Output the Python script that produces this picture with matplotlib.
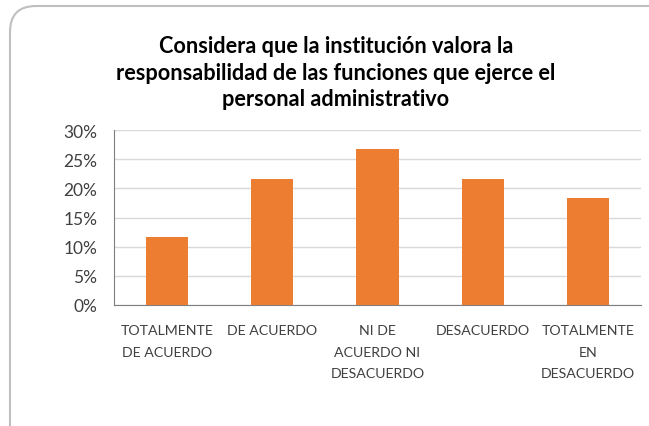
import matplotlib
matplotlib.use("Agg")
import matplotlib.pyplot as plt
from matplotlib.patches import FancyBboxPatch
from matplotlib.ticker import PercentFormatter

categories = ["TOTALMENTE\nDE ACUERDO", "DE ACUERDO", "NI DE\nACUERDO NI\nDESACUERDO",
              "DESACUERDO", "TOTALMENTE\nEN\nDESACUERDO"]
values = [0.1167, 0.2167, 0.2667, 0.2167, 0.1833]
yticks = [0, 0.05, 0.10, 0.15, 0.20, 0.25, 0.30]
title = "Considera que la institución valora la\nresponsabilidad de las funciones que ejerce el\npersonal administrativo"

plt.rcParams['font.family'] = ['Lato', 'DejaVu Sans']

W, H = 649, 427
fig = plt.figure(figsize=(W/100, H/100), dpi=100)
fig.patch.set_facecolor("white")

# rounded chart border
border = FancyBboxPatch((10/W, -0.2), 1.2, 1 - 7/H + 0.2,
                        boxstyle="round,pad=0,rounding_size=0.04",
                        transform=fig.transFigure, facecolor="none",
                        edgecolor="#BFBFBF", linewidth=1.5, mutation_aspect=W/H)
fig.patches.append(border)

ax = fig.add_axes([114/W, 1 - 306/H, (641-114)/W, (306-131)/H])
x = range(len(categories))
ax.bar(x, values, width=0.4, color="#ED7D31", zorder=3)
ax.set_xlim(-0.5, len(categories) - 0.5)
ax.set_ylim(0, 0.30)
ax.set_yticks(yticks)
ax.yaxis.set_major_formatter(PercentFormatter(1.0, decimals=0))
ax.set_xticks(list(x))
ax.set_xticklabels(categories, fontsize=10.2, color="#404040", linespacing=1.95)
ax.tick_params(axis="y", labelsize=12.5, colors="#404040", length=0, pad=12)
ax.tick_params(axis="x", length=0, pad=14)
ax.grid(axis="y", color="#D9D9D9", linewidth=1, zorder=0)
for s in ["top", "right"]:
    ax.spines[s].set_visible(False)
ax.spines["left"].set_color("#7F7F7F")
ax.spines["bottom"].set_color("#7F7F7F")

fig.text(336/W, 1 - 73/H, title, ha="center", va="center", fontsize=15.6,
         fontweight="bold", color="#000000", linespacing=1.31)

fig.savefig("out.png", dpi=100, facecolor="white")
